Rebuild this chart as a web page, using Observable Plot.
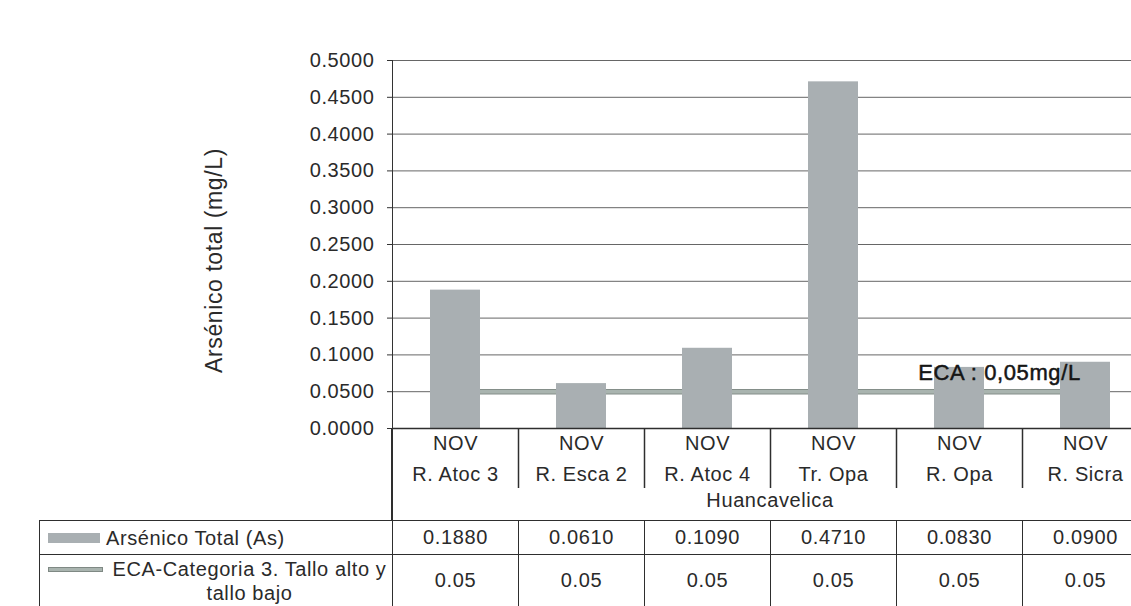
<!DOCTYPE html>
<html>
<head>
<meta charset="utf-8">
<script src="https://cdn.jsdelivr.net/npm/d3@7"></script>
<script src="https://cdn.jsdelivr.net/npm/@observablehq/plot@0.6"></script>
<style>
  html, body { margin: 0; padding: 0; background: #fff; overflow: hidden; }
  #wrap { position: relative; width: 1131px; height: 606px; overflow: hidden;
          font-family: "Liberation Sans", Arial, sans-serif; color: #2a2a2a; letter-spacing: 0.6px; }
  #wrap svg { position: absolute; left: 0; top: 0; }
  .hline { position: absolute; background: #2e2e2e; }
  .region { position: absolute; text-align: center; font-size: 20px; }
  table.dt { position: absolute; border-collapse: collapse; table-layout: fixed; font-size: 20px; }
  table.dt td { border: 1.5px solid #2e2e2e; padding: 0; text-align: center; vertical-align: middle; overflow: hidden; }
  .leg { display: flex; align-items: center; padding-left: 8px; }
  .leg .txt { text-align: center; line-height: 24px; }
  .key-bar { flex: none; width: 52px; height: 10px; background: #a9afb2; margin-right: 6px; }
  .key-line { flex: none; align-self: flex-start; margin-top: 10px; width: 53px; height: 3px; background: #a9b4af; border: 1px solid #7f8984; margin-right: 4px; }
</style>
</head>
<body>
<div id="wrap"></div>
<script>
// ---- data ----
const sites = ["R. Atoc 3", "R. Esca 2", "R. Atoc 4", "Tr. Opa", "R. Opa", "R. Sicra"];
const month = "NOV";
const region = "Huancavelica";
const arsenic = [0.188, 0.061, 0.109, 0.471, 0.083, 0.090];
const eca = [0.05, 0.05, 0.05, 0.05, 0.05, 0.05];
const arsenicLabels = ["0.1880", "0.0610", "0.1090", "0.4710", "0.0830", "0.0900"];
const ecaLabels = ["0.05", "0.05", "0.05", "0.05", "0.05", "0.05"];
const yTicks = [0, 0.05, 0.1, 0.15, 0.2, 0.25, 0.3, 0.35, 0.4, 0.45, 0.5];
const seriesNames = ["Arsénico Total (As)", "ECA-Categoria 3. Tallo alto y tallo bajo"];
const ecaNote = "ECA : 0,05mg/L";
const ecaNoteSite = "R. Opa";
const yTitle = "Arsénico total (mg/L)";

// ---- layout ----
const W = 1131, H = 490;
const xRange = [392, 1148];
const bw = (xRange[1] - xRange[0]) / sites.length;
const data = sites.map((s, i) => ({site: s, as: arsenic[i], eca: eca[i]}));

const chart = Plot.plot({
  width: W, height: H,
  marginTop: 60, marginBottom: 62, marginLeft: 392, marginRight: 0,
  style: {fontFamily: "Liberation Sans, Arial, sans-serif", fontSize: "20px", color: "#2a2a2a",
          background: "transparent", letterSpacing: "0.6px", overflow: "visible"},
  x: {domain: sites, range: xRange, padding: 0},
  y: {domain: [0, 0.5]},
  marks: [
    Plot.ruleY(yTicks.slice(1), {stroke: "#666", strokeWidth: 1}),
    Plot.lineY(data, {x: "site", y: "eca", stroke: "#848e89", strokeWidth: 5.5}),
    Plot.lineY(data, {x: "site", y: "eca", stroke: "#a9b4af", strokeWidth: 3.5}),
    Plot.barY(data, {x: "site", y: "as", fill: "#a9afb2", insetLeft: 38, insetRight: 38}),
    Plot.text([{site: ecaNoteSite, v: eca[sites.indexOf(ecaNoteSite)], t: ecaNote}],
      {x: "site", y: "v", text: "t", dx: 40, dy: -19, fontSize: 22, fill: "#151515",
       stroke: "#151515", strokeWidth: 0.5}),
    Plot.ruleY([0], {stroke: "#2e2e2e", strokeWidth: 1.5}),
    Plot.axisY({ticks: yTicks, tickFormat: d3.format(".4f"), tickSize: 5, tickPadding: 13,
                label: null, stroke: "#333"}),
    Plot.frame({anchor: "left", stroke: "#333"}),
    Plot.text(sites, {x: d => d, text: d => month + "\n" + d, frameAnchor: "bottom",
                      lineAnchor: "top", dy: -1, lineHeight: 1.55, fill: "#2a2a2a"}),
    Plot.axisX({tickSize: 60, dx: bw / 2, fill: "none", stroke: "#2e2e2e", strokeWidth: 1.5, label: null}),
    Plot.text([yTitle], {frameAnchor: "left", textAnchor: "middle", dx: -178, dy: 16, rotate: -90,
                         fontSize: 23, fill: "#2a2a2a"})
  ]
});

const wrap = document.getElementById("wrap");
wrap.appendChild(chart);

// ---- data table below the chart, aligned on the x scale ----
const xs = chart.scale("x");
const step = xs.step || xs.bandwidth;
const x0 = xs.range[0];
const tableLeft = 39, tableTop = 520;

const vl = document.createElement("div");
vl.className = "hline";
Object.assign(vl.style, {left: (x0 - 0.75) + "px", top: "428px", width: "1.5px", height: (tableTop - 428) + "px"});
wrap.appendChild(vl);

const reg = document.createElement("div");
reg.className = "region";
reg.textContent = region;
Object.assign(reg.style, {left: x0 + "px", width: (step * sites.length) + "px", top: "486px", height: "30px", lineHeight: "28px"});
wrap.appendChild(reg);

const table = document.createElement("table");
table.className = "dt";
table.style.left = tableLeft + "px";
table.style.top = tableTop + "px";
table.style.width = (x0 - tableLeft + step * sites.length) + "px";
const cg = document.createElement("colgroup");
const c0 = document.createElement("col"); c0.style.width = (x0 - tableLeft) + "px"; cg.appendChild(c0);
sites.forEach(() => { const c = document.createElement("col"); c.style.width = step + "px"; cg.appendChild(c); });
table.appendChild(cg);

const rows = [
  {name: seriesNames[0], key: "key-bar", vals: arsenicLabels, h: 34},
  {name: seriesNames[1], key: "key-line", vals: ecaLabels, h: 52}
];
rows.forEach(r => {
  const tr = document.createElement("tr");
  tr.style.height = r.h + "px";
  const td = document.createElement("td");
  const leg = document.createElement("div");
  leg.className = "leg";
  const k = document.createElement("span"); k.className = r.key;
  const t = document.createElement("span"); t.className = "txt"; t.textContent = r.name;
  leg.appendChild(k); leg.appendChild(t);
  td.appendChild(leg);
  tr.appendChild(td);
  r.vals.forEach(v => { const c = document.createElement("td"); c.textContent = v; tr.appendChild(c); });
  table.appendChild(tr);
});
wrap.appendChild(table);
</script>
</body>
</html>
